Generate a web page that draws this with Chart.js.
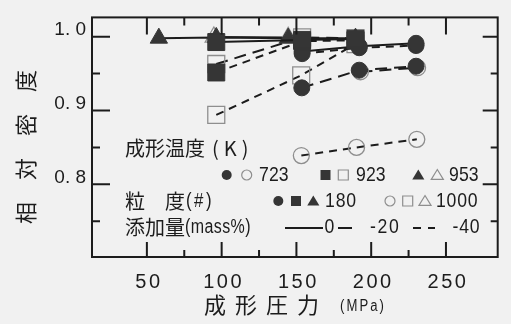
<!DOCTYPE html>
<html>
<head>
<meta charset="utf-8">
<script src="https://cdn.jsdelivr.net/npm/chart.js@4/dist/chart.umd.min.js"></script>
<style>
  html, body { margin: 0; padding: 0; background: #f1f1f1; }
  #wrap { width: 511px; height: 324px; }
</style>
</head>
<body>
<div id="wrap"><canvas id="c" width="511" height="324"></canvas></div>
<script>
// Forming pressure (MPa) and relative density, one pair of arrays per series.
// Series key: temperature (K) / powder size (#) / additive (mass%)

// 953 K, #180, 0 mass%
const press_953_180_0 = [58, 96.4, 144.5, 189.5];
const dens_953_180_0  = [0.998, 0.999, 0.998, 0.998];
// 953 K, #1000, 0 mass%
const press_953_1000_0 = [94.8, 144.5];
const dens_953_1000_0  = [0.9995, 0.999];
// 923 K, #180, 0 mass%
const press_923_180_0 = [96.4, 153.8, 189.5];
const dens_923_180_0  = [0.9927, 0.9956, 0.997];
// 923 K, #180, -40 mass%
const press_923_180_40 = [96.4, 153.8, 189.5];
const dens_923_180_40  = [0.9515, 0.994, 0.995];
// 923 K, #1000, -20 mass%
const press_923_1000_20 = [96.4, 153.8, 189.5];
const dens_923_1000_20  = [0.963, 0.999, 0.998];
// 923 K, #1000, -40 mass%
const press_923_1000_40 = [96.4, 153.2, 189.5];
const dens_923_1000_40  = [0.894, 0.9476, 0.990];
// 723 K, #180, 0 mass%
const press_723_180_0 = [153.8, 192, 230];
const dens_723_180_0  = [0.980, 0.987, 0.991];
// 723 K, #180, -20 mass%
const press_723_180_20 = [153.6, 192, 230];
const dens_723_180_20  = [0.9307, 0.9546, 0.960];
// 723 K, #180, -40 mass%
const press_723_180_40 = [153.8, 192, 230];
const dens_723_180_40  = [0.977, 0.985, 0.988];
// 723 K, #1000, -20 mass%
const press_723_1000_20 = [192.8, 231];
const dens_723_1000_20  = [0.9525, 0.958];
// 723 K, #1000, -40 mass%
const press_723_1000_40 = [153.3, 190.2, 230.5];
const dens_723_1000_40  = [0.839, 0.850, 0.861];

// Axis ticks
const xMajor = [50, 100, 150, 200, 250];
const xMinor = [75, 125, 175, 225];
const yMajor = [0.8, 0.9, 1.0];
const yMinor = [0.75, 0.85, 0.95];

// Legend texts
const tempLabels = ['723', '923', '953'];
const sizeLabels = ['180', '1000'];
const addLabels  = ['0', '-20', '-40'];

const INK = '#1c1c1c';
const FILL = '#353535';
const OPEN = '#8e8e8e';
const CJK = '"Noto Sans CJK JP", "Noto Sans CJK SC", sans-serif';
const SANS = '"Liberation Sans", Arial, sans-serif';

const DASH = { '0': [], '-20': [12, 7], '-40': [8, 6] };
const SHAPE = { '723': 'circle', '923': 'rect', '953': 'triangle' };
const RADIUS = { circle: 8, rect: 12, triangle: 10 };

function pts(xs, ys) { return xs.map((x, i) => ({ x: x, y: ys[i] })); }

function series(temp, size, add, xs, ys, order) {
  const shape = SHAPE[temp];
  const filled = size === '180';
  return {
    label: temp + ' K / #' + size + ' / ' + add,
    data: pts(xs, ys),
    showLine: true,
    borderColor: INK,
    borderWidth: 2,
    borderDash: DASH[add],
    pointStyle: shape,
    pointRadius: RADIUS[shape],
    pointBackgroundColor: filled ? FILL : 'rgba(0,0,0,0)',
    pointBorderColor: filled ? FILL : OPEN,
    pointBorderWidth: filled ? 1 : 1.3,
    order: order
  };
}

const datasets = [
  series('953', '1000', '0',   press_953_1000_0,  dens_953_1000_0, 12),
  series('923', '1000', '-20', press_923_1000_20, dens_923_1000_20, 11),
  series('723', '1000', '-20', press_723_1000_20, dens_723_1000_20, 10),
  series('923', '1000', '-40', press_923_1000_40, dens_923_1000_40, 9),
  series('953', '180',  '0',   press_953_180_0,   dens_953_180_0, 8),
  series('723', '180',  '-40', press_723_180_40,  dens_723_180_40, 7),
  series('723', '180',  '0',   press_723_180_0,   dens_723_180_0, 6),
  series('923', '180',  '-40', press_923_180_40,  dens_923_180_40, 5),
  series('923', '180',  '0',   press_923_180_0,   dens_923_180_0, 4),
  series('723', '180',  '-20', press_723_180_20,  dens_723_180_20, 3),
  series('723', '1000', '-40', press_723_1000_40, dens_723_1000_40, 2)
];

function drawMarker(ctx, shape, x, y, s, filled) {
  ctx.save();
  ctx.beginPath();
  if (shape === 'circle') {
    ctx.arc(x, y, s, 0, Math.PI * 2);
  } else if (shape === 'rect') {
    ctx.rect(x - s, y - s, 2 * s, 2 * s);
  } else {
    const h = s * 1.8;
    ctx.moveTo(x, y - h * 0.55);
    ctx.lineTo(x + s * 1.1, y + h * 0.45);
    ctx.lineTo(x - s * 1.1, y + h * 0.45);
    ctx.closePath();
  }
  if (filled) { ctx.fillStyle = FILL; ctx.fill(); }
  else { ctx.strokeStyle = OPEN; ctx.lineWidth = 1.2; ctx.stroke(); }
  ctx.restore();
}

// text helper; sx < 1 gives a condensed face
function text(ctx, str, x, y, font, align, spacing, sx) {
  ctx.save();
  ctx.translate(x, y);
  ctx.scale(sx || 1, 1);
  ctx.font = font;
  ctx.fillStyle = INK;
  ctx.textAlign = align || 'left';
  ctx.textBaseline = 'middle';
  ctx.letterSpacing = (spacing || 0) + 'px';
  ctx.fillText(str, 0, 0);
  ctx.restore();
}

const framePlugin = {
  id: 'frame',
  beforeDraw(chart) {
    const xs = chart.scales.x;
    if (!xs._spaced) {
      const orig = xs.drawLabels;
      xs.drawLabels = function (area) {
        const c = this.ctx;
        c.save();
        c.letterSpacing = '2.5px';
        orig.call(this, area);
        c.restore();
      };
      xs._spaced = true;
    }
  },
  afterDraw(chart) {
    const ctx = chart.ctx;
    const a = chart.chartArea;
    const xs = chart.scales.x, ys = chart.scales.y;
    ctx.save();
    ctx.strokeStyle = INK;
    ctx.lineWidth = 2;
    ctx.strokeRect(a.left, a.top, a.right - a.left, a.bottom - a.top);

    // inward tick marks on all four sides
    ctx.beginPath();
    xMajor.forEach(v => {
      const px = xs.getPixelForValue(v);
      ctx.moveTo(px, a.bottom); ctx.lineTo(px, a.bottom - 15);
      ctx.moveTo(px, a.top); ctx.lineTo(px, a.top + 17);
    });
    xMinor.forEach(v => {
      const px = xs.getPixelForValue(v);
      ctx.moveTo(px, a.bottom); ctx.lineTo(px, a.bottom - 7);
      ctx.moveTo(px, a.top); ctx.lineTo(px, a.top + 8);
    });
    yMajor.forEach(v => {
      const py = ys.getPixelForValue(v);
      ctx.moveTo(a.left, py); ctx.lineTo(a.left + 18, py);
      ctx.moveTo(a.right, py); ctx.lineTo(a.right - 15, py);
    });
    yMinor.forEach(v => {
      const py = ys.getPixelForValue(v);
      ctx.moveTo(a.left, py); ctx.lineTo(a.left + 8, py);
      ctx.moveTo(a.right, py); ctx.lineTo(a.right - 7, py);
    });
    ctx.stroke();
    ctx.restore();

    // axis titles
    text(ctx, '成形圧力', 204, 305, '22px ' + CJK, 'left', 9);
    text(ctx, '(MPa)', 340, 306.5, '16px ' + SANS, 'left', 2.5, 0.82);
    ctx.save();
    ctx.translate(26, 147);
    ctx.rotate(-Math.PI / 2);
    text(ctx, '相　対　密　度', 0, 0, '22px ' + CJK, 'center', 0);
    ctx.restore();

    // key block
    const num = '21px ' + SANS;
    const NX = 0.84;
    text(ctx, '成形温度', 125, 148, '20px ' + CJK, 'left', 0);
    text(ctx, '(K)', 212, 148, '20px ' + CJK, 'left', 5);

    drawMarker(ctx, 'circle', 226.7, 175, 5, true);
    drawMarker(ctx, 'circle', 246.7, 175, 5, false);
    text(ctx, tempLabels[0], 288.5, 175, num, 'right', 0, NX);
    drawMarker(ctx, 'rect', 325.5, 175, 5, true);
    drawMarker(ctx, 'rect', 343.3, 175, 5, false);
    text(ctx, tempLabels[1], 385.5, 175, num, 'right', 0, NX);
    drawMarker(ctx, 'triangle', 418.3, 175, 5.5, true);
    drawMarker(ctx, 'triangle', 437.3, 175, 5.5, false);
    text(ctx, tempLabels[2], 478.5, 175, num, 'right', 0, NX);

    text(ctx, '粒　度', 125, 201, '20px ' + CJK, 'left', 0);
    text(ctx, '(#)', 186, 201, '20px ' + SANS, 'left', 3, 0.84);
    drawMarker(ctx, 'circle', 278.3, 201, 5, true);
    drawMarker(ctx, 'rect', 296, 201, 5, true);
    drawMarker(ctx, 'triangle', 313.3, 201, 5.5, true);
    text(ctx, sizeLabels[0], 357, 201, num, 'right', 1, NX);
    drawMarker(ctx, 'circle', 390, 201, 5, false);
    drawMarker(ctx, 'rect', 407.7, 201, 5, false);
    drawMarker(ctx, 'triangle', 425, 201, 5.5, false);
    text(ctx, sizeLabels[1], 478.5, 201, num, 'right', 1, NX);

    text(ctx, '添加量', 125, 227, '20px ' + CJK, 'left', 0);
    text(ctx, '(mass%)', 185, 227, '20px ' + SANS, 'left', 0.5, 0.8);
    ctx.save();
    ctx.strokeStyle = INK;
    ctx.lineWidth = 2;
    ctx.beginPath();
    ctx.moveTo(285, 228); ctx.lineTo(323, 228);
    ctx.moveTo(338, 228); ctx.lineTo(352, 228);
    ctx.moveTo(413, 228); ctx.lineTo(421, 228);
    ctx.moveTo(428, 228); ctx.lineTo(435, 228);
    ctx.stroke();
    ctx.restore();
    text(ctx, addLabels[0], 324.5, 227.5, num, 'left', 0, NX);
    text(ctx, addLabels[1], 400.5, 227.5, num, 'right', 2, NX);
    text(ctx, addLabels[2], 480.5, 227.5, num, 'right', 1, NX);
  }
};

new Chart(document.getElementById('c').getContext('2d'), {
  type: 'scatter',
  data: { datasets: datasets },
  options: {
    responsive: false,
    animation: false,
    layout: { padding: { top: 12, right: 3, left: 0, bottom: 0 } },
    plugins: { legend: { display: false }, tooltip: { enabled: false } },
    scales: {
      x: {
        type: 'linear',
        position: 'bottom',
        min: 13.3,
        max: 284.6,
        afterFit(s) { s.height = 67; },
        afterBuildTicks(s) { s.ticks = xMajor.map(v => ({ value: v })); },
        grid: { display: false, drawTicks: false },
        border: { display: false },
        ticks: {
          font: { family: 'Liberation Sans', size: 20 },
          color: INK,
          padding: 13,
          labelOffset: 2,
          maxRotation: 0,
          autoSkip: false,
          callback: v => String(v)
        }
      },
      y: {
        type: 'linear',
        min: 0.7016,
        max: 1.0261,
        afterFit(s) { s.width = 92; },
        afterBuildTicks(s) { s.ticks = yMajor.map(v => ({ value: v })); },
        grid: { display: false, drawTicks: false },
        border: { display: false },
        ticks: {
          font: { family: 'Liberation Sans', size: 19 },
          color: INK,
          padding: 6,
          labelOffset: -7,
          autoSkip: false,
          callback: v => v.toFixed(1).replace('.', '. ')
        }
      }
    }
  },
  plugins: [framePlugin]
});
</script>
</body>
</html>
